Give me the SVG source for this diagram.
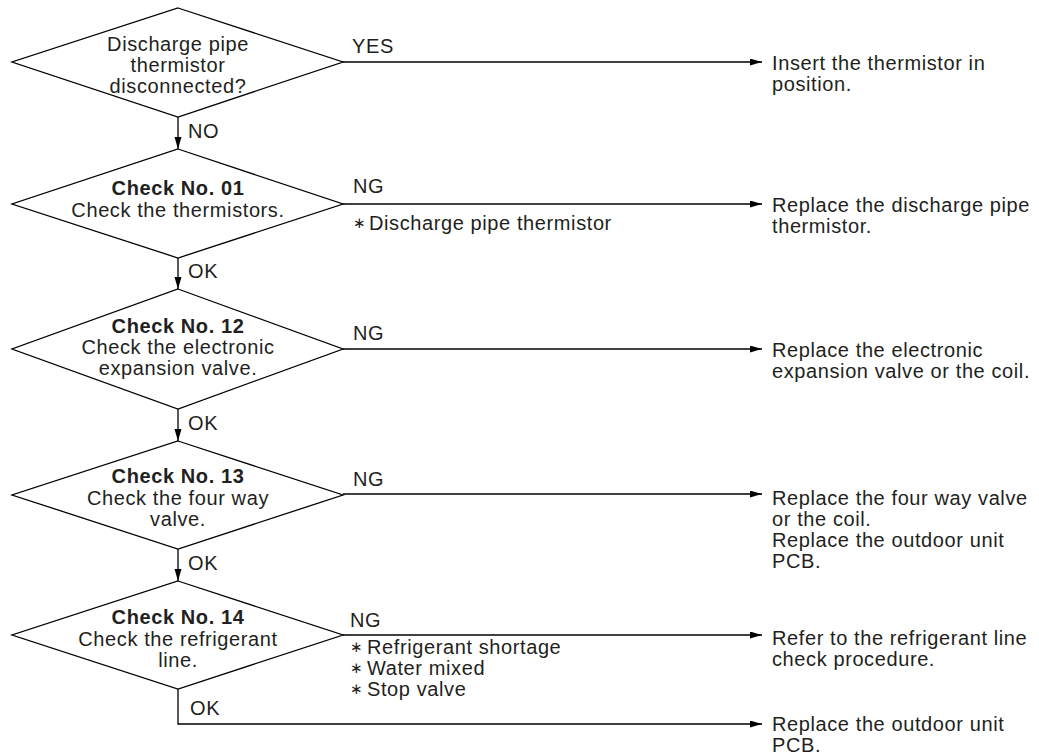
<svg xmlns="http://www.w3.org/2000/svg" width="1039" height="754" viewBox="0 0 1039 754">
<style>
  text { font-family: "Liberation Sans", Arial, Helvetica, sans-serif; font-size: 20px; letter-spacing: 0.6px; fill: #231f20; }
  .c { text-anchor: middle; }
  .b { font-weight: bold; }
  .ast { font-family: "DejaVu Sans", sans-serif; font-size: 15px; letter-spacing: 0; }
  .shape { fill: #ffffff; stroke: #000000; stroke-width: 1.3; }
  .line { fill: none; stroke: #000000; stroke-width: 1.3; }
</style>
<defs>
  <marker id="arr" markerWidth="13" markerHeight="8" refX="12" refY="3.5" orient="auto" markerUnits="userSpaceOnUse">
    <path d="M0,0 L12,3.5 L0,7 z" fill="#000000"/>
  </marker>
</defs>
<rect width="1039" height="754" fill="#ffffff"/>

<g id="connectors">
  <path class="line" d="M343,62 H762" marker-end="url(#arr)"/>
  <path class="line" d="M178,117 V149" marker-end="url(#arr)"/>
  <path class="line" d="M343,204 H762" marker-end="url(#arr)"/>
  <path class="line" d="M178,258 V289" marker-end="url(#arr)"/>
  <path class="line" d="M343,349 H762" marker-end="url(#arr)"/>
  <path class="line" d="M178,409 V441" marker-end="url(#arr)"/>
  <path class="line" d="M343,494 H762" marker-end="url(#arr)"/>
  <path class="line" d="M178,549 V581" marker-end="url(#arr)"/>
  <path class="line" d="M343,635 H762" marker-end="url(#arr)"/>
  <path class="line" d="M178,689 V724 H762" marker-end="url(#arr)"/>
  <g id="connector-labels">
    <text x="352" y="53">YES</text>
    <text x="188" y="138">NO</text>
    <text x="353" y="193">NG</text>
    <text x="353" y="228" class="ast">∗</text>
    <text x="369" y="230">Discharge pipe thermistor</text>
    <text x="188" y="278">OK</text>
    <text x="353" y="340">NG</text>
    <text x="188" y="430">OK</text>
    <text x="353" y="486">NG</text>
    <text x="188" y="570">OK</text>
    <text x="350" y="627">NG</text>
    <text x="350" y="652" class="ast">∗</text>
    <text x="367" y="654">Refrigerant shortage</text>
    <text x="350" y="673" class="ast">∗</text>
    <text x="367" y="675">Water mixed</text>
    <text x="350" y="694" class="ast">∗</text>
    <text x="367" y="696">Stop valve</text>
    <text x="190" y="715">OK</text>
  </g>
</g>

<g id="d1">
  <polygon class="shape" points="178,8 343,62 178,117 12,62"/>
  <text class="c" x="178" y="51">Discharge pipe</text>
  <text class="c" x="178" y="72">thermistor</text>
  <text class="c" x="178" y="93">disconnected?</text>
</g>
<g id="d2">
  <polygon class="shape" points="178,149 343,204 178,258 12,204"/>
  <text class="c b" x="178" y="195">Check No. 01</text>
  <text class="c" x="178" y="217">Check the thermistors.</text>
</g>
<g id="d3">
  <polygon class="shape" points="178,289 343,349 178,409 12,349"/>
  <text class="c b" x="178" y="333">Check No. 12</text>
  <text class="c" x="178" y="354">Check the electronic</text>
  <text class="c" x="178" y="375">expansion valve.</text>
</g>
<g id="d4">
  <polygon class="shape" points="178,441 343,495 178,549 12,495"/>
  <text class="c b" x="178" y="483">Check No. 13</text>
  <text class="c" x="178" y="505">Check the four way</text>
  <text class="c" x="178" y="526">valve.</text>
</g>
<g id="d5">
  <polygon class="shape" points="178,581 343,635 178,689 12,635"/>
  <text class="c b" x="178" y="624">Check No. 14</text>
  <text class="c" x="178" y="646">Check the refrigerant</text>
  <text class="c" x="178" y="667">line.</text>
</g>

<g id="r1">
  <text x="772" y="70">Insert the thermistor in</text>
  <text x="772" y="91">position.</text>
</g>
<g id="r2">
  <text x="772" y="212">Replace the discharge pipe</text>
  <text x="772" y="233">thermistor.</text>
</g>
<g id="r3">
  <text x="772" y="357">Replace the electronic</text>
  <text x="772" y="378">expansion valve or the coil.</text>
</g>
<g id="r4">
  <text x="772" y="505">Replace the four way valve</text>
  <text x="772" y="526">or the coil.</text>
  <text x="772" y="547">Replace the outdoor unit</text>
  <text x="772" y="568">PCB.</text>
</g>
<g id="r5">
  <text x="772" y="645">Refer to the refrigerant line</text>
  <text x="772" y="666">check procedure.</text>
</g>
<g id="r6">
  <text x="772" y="731">Replace the outdoor unit</text>
  <text x="772" y="752">PCB.</text>
</g>
</svg>
